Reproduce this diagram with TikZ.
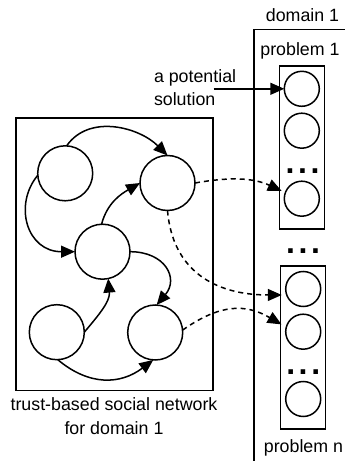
\documentclass[tikz,border=0pt]{standalone}
\usepackage{fontspec}
\setmainfont{Liberation Sans}
\usetikzlibrary{arrows.meta}
\begin{document}
\begin{tikzpicture}[x=1pt,y=1pt,
  every node/.style={inner sep=0pt, outer sep=0pt},
  lbl/.style={font=\fontsize{17.8}{23.6}\selectfont, anchor=base},
  big/.style={circle, draw, line width=1.5pt, minimum size=55pt},
  small/.style={circle, draw, line width=1.5pt, minimum size=35pt},
  frame/.style={draw, line width=1.5pt},
  arr/.style={line width=1.5pt, -{Triangle[length=14pt,width=12pt]}},
  darr/.style={arr, dash pattern=on 5pt off 4pt},
  dots/.style={font=\fontsize{32}{32}\selectfont\bfseries, anchor=base}
]
\useasboundingbox (0,0) rectangle (345,461);

% frames
\node[frame, minimum width=197pt, minimum height=272.7pt] (net) at (114.5,206.7) {};
\draw[line width=1.5pt] (254,-2) -- (254,431.7) -- (347,431.7);
\node[frame, minimum width=45pt, minimum height=163pt] (p1box) at (301.8,313.5) {};
\node[frame, minimum width=45pt, minimum height=163pt] (pnbox) at (303.2,113.5) {};

% network circles
\node[big] (A) at (65.2,287.7) {};
\node[big] (B) at (167.5,278) {};
\node[big] (C) at (102.5,209.3) {};
\node[big] (D) at (56.8,128.8) {};
\node[big] (E) at (155.2,128.5) {};

% problem circles
\node[small] (p1a) at (301.8,372.2) {};
\node[small] (p1b) at (301.8,330.3) {};
\node[small] (p1c) at (301.8,262.3) {};
\node[small] (pna) at (303.2,172) {};
\node[small] (pnb) at (303.2,129.3) {};
\node[small] (pnc) at (303.2,62) {};

% dots
\node[dots] (d1) at (302.5,287.6) {.\hspace{3.6pt}.\hspace{3.6pt}.};
\node[dots] (d2) at (303,207.6) {.\hspace{3.6pt}.\hspace{3.6pt}.};
\node[dots] (d3) at (303.2,86.6) {.\hspace{3.6pt}.\hspace{3.6pt}.};

% labels
\node[lbl] (tdom) at (302.5,439) {domain 1};
\node[lbl] (tp1) at (300,405) {problem 1};
\node[lbl] (tpn) at (303.5,8.3) {problem n};
\node[lbl, anchor=base west, align=left] (tsol) at (154,355.3) {a potential\\solution};
\node[lbl, align=center] (tcap) at (114,26.7) {trust-based social network\\for domain 1};

% solution arrow
\coordinate (solstart) at (213.5,372.2);
\draw[arr] (solstart) -- (p1a);

% network arrows
\draw[arr] (A.87) to[out=55,in=135] (B.90);
\draw[arr] (A.184) .. controls +(-24.7,-30) and +(-48,0) .. (C.180);
\draw[arr] (C.92) to[out=75,in=210] (B.180);
\draw[arr] (C.0) to[out=0,in=50,looseness=1.5] (E.87);
\draw[arr] (D.0) to[out=50,in=-85] (C.-78);
\draw[arr] (D.-88) to[out=-40,in=217,looseness=1.1] (E.-94);

% dashed arrows
\draw[darr, shorten >=4pt] (B.0) to[out=10,in=155] (p1c.160);
\draw[darr, shorten >=5pt] (B.-90) .. controls +(5,-60) and +(-72,0) .. (pna.200);
\draw[darr, shorten >=5.5pt] (E.5) to[out=35,in=150,looseness=1.15] (pnb.165);
\end{tikzpicture}
\end{document}
